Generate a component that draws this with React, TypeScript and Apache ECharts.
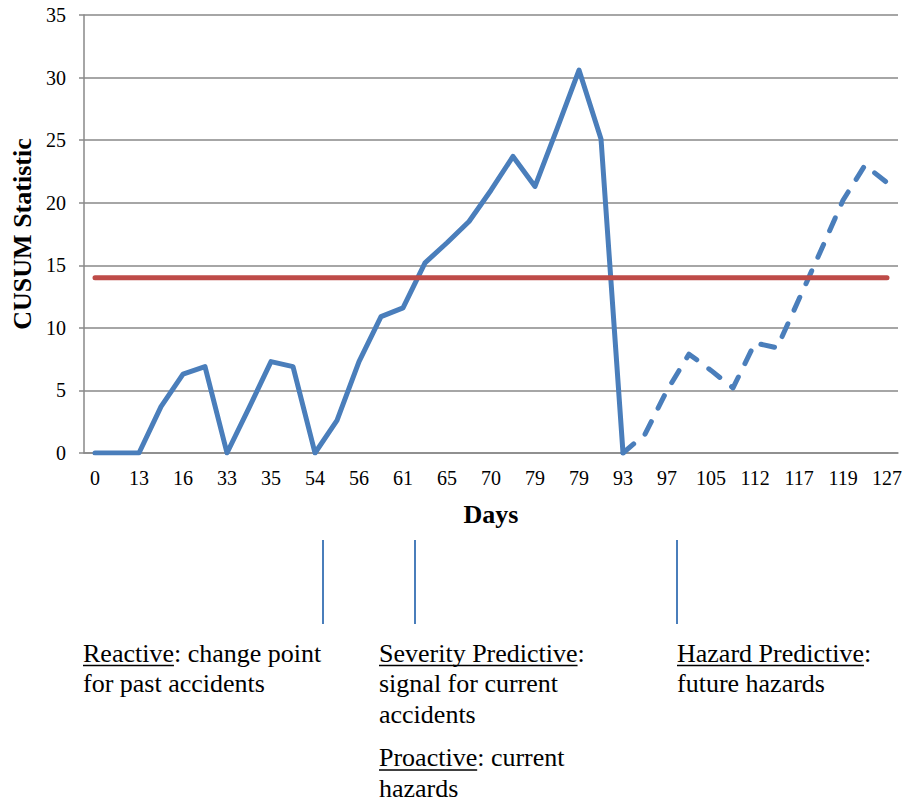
import React, { useEffect, useRef } from "react";
import * as echarts from "echarts";

// ---------- data ----------
// Day labels, shown on every second observation
const dayLabels = ["0", "13", "16", "33", "35", "54", "56", "61", "65", "70", "79", "79", "93", "97", "105", "112", "117", "119", "127"];
// CUSUM statistic for each observation
const cusum = [
  0, 0, 0, 3.7, 6.3, 6.9, 0, 3.6, 7.3, 6.9, 0, 2.6, 7.3, 10.9, 11.6, 15.2, 16.8, 18.5, 21.0,
  23.7, 21.3, 25.9, 30.6, 25.1, 0, 1.5, 5.0, 7.9, 6.6, 5.2, 8.8, 8.4, 12.3, 16.2, 20.2, 23.0, 21.6,
];
const THRESHOLD = 14;
const FORECAST_START = 24; // index where the dashed (future) part begins
const Y_MIN = 0;
const Y_MAX = 35;
const Y_INTERVAL = 5;

// Annotations below the chart: [underlined part, rest]
const noteReactive = [["Reactive", ": change point"], ["", "for past accidents"]];
const noteSeverity = [["Severity Predictive", ":"], ["", "signal for current"], ["", "accidents"]];
const noteProactive = [["Proactive", ": current"], ["", "hazards"]];
const noteHazard = [["Hazard Predictive", ":"], ["", "future hazards"]];

// ---------- styling / layout ----------
const BLUE = "#4A7EBB";
const RED = "#BE4B48";
const GRID = "#898989";
const SERIF = '"Liberation Serif", "Times New Roman", Times, serif';
const NOTE_SIZE = 26;
const LINE_STEP = 30.5;

const noteLayout = [
  { lines: noteReactive, x: 83, baseline: 662 },
  { lines: noteSeverity, x: 379, baseline: 662 },
  { lines: noteProactive, x: 379, baseline: 766.5 },
  { lines: noteHazard, x: 677, baseline: 662 },
];
const markerX = [323, 415, 677];

function measure(text: string, font: string): number {
  const c = document.createElement("canvas").getContext("2d");
  if (!c) return text.length * NOTE_SIZE * 0.45;
  c.font = font;
  return c.measureText(text).width;
}

export default function App() {
  const ref = useRef<HTMLDivElement>(null);

  useEffect(() => {
    if (!ref.current) return;
    const chart = echarts.init(ref.current, null, { renderer: "svg" });

    const categories = cusum.map((_, i) => (i % 2 === 0 ? dayLabels[i / 2] : ""));
    const solid = cusum.map((v, i) => (i <= FORECAST_START ? v : null));
    const dashed = cusum.map((v, i) => (i >= FORECAST_START ? v : null));
    const thresholdLine = cusum.map(() => THRESHOLD);

    const noteFont = `${NOTE_SIZE}px ${SERIF}`;
    const graphics: any[] = [];
    markerX.forEach((x) => {
      graphics.push({
        type: "line",
        shape: { x1: x, y1: 540, x2: x, y2: 624 },
        style: { stroke: BLUE, lineWidth: 2 },
        silent: true,
      });
    });
    noteLayout.forEach((block) => {
      block.lines.forEach(([u, rest], li) => {
        const base = block.baseline + li * LINE_STEP;
        graphics.push({
          type: "text",
          x: block.x,
          y: base - NOTE_SIZE * 0.3375,
          style: {
            text: u + rest,
            font: noteFont,
            fontSize: NOTE_SIZE,
            fontFamily: SERIF,
            fill: "#000",
            align: "left",
            verticalAlign: "middle",
            textAlign: "left",
            textVerticalAlign: "middle",
          },
          silent: true,
        });
        if (u) {
          const w = measure(u, noteFont);
          graphics.push({
            type: "line",
            shape: { x1: block.x, y1: base + 3.5, x2: block.x + w, y2: base + 3.5 },
            style: { stroke: "#000", lineWidth: 1.3 },
            silent: true,
          });
        }
      });
    });

    chart.setOption({
      animation: false,
      backgroundColor: "#fff",
      grid: { left: 84, right: 6, top: 15, bottom: 350, containLabel: false },
      xAxis: {
        type: "category",
        data: categories,
        boundaryGap: true,
        name: "Days",
        nameLocation: "middle",
        nameGap: 48,
        nameTextStyle: { fontFamily: SERIF, fontSize: 26, fontWeight: "bold", color: "#000" },
        axisLine: { show: true, lineStyle: { color: GRID, width: 1.5 } },
        axisTick: { show: false },
        axisLabel: { interval: 0, margin: 15, fontFamily: SERIF, fontSize: 20, color: "#000" },
        splitLine: { show: false },
      },
      yAxis: {
        type: "value",
        min: Y_MIN,
        max: Y_MAX,
        interval: Y_INTERVAL,
        name: "CUSUM Statistic",
        nameLocation: "middle",
        nameGap: 47,
        nameTextStyle: { fontFamily: SERIF, fontSize: 26, fontWeight: "bold", color: "#000" },
        axisLine: { show: true, lineStyle: { color: GRID, width: 1.5 } },
        axisTick: { show: true, length: 5, lineStyle: { color: GRID, width: 1.5 } },
        axisLabel: { margin: 18, fontFamily: SERIF, fontSize: 20, color: "#000" },
        splitLine: { show: true, lineStyle: { color: GRID, width: 1.5 } },
      },
      series: [
        {
          name: "CUSUM",
          type: "line",
          data: solid,
          symbol: "none",
          connectNulls: false,
          lineStyle: { color: BLUE, width: 5, cap: "round", join: "round" },
          z: 2,
        },
        {
          name: "CUSUM forecast",
          type: "line",
          data: dashed,
          symbol: "none",
          connectNulls: false,
          lineStyle: { color: BLUE, width: 5, type: [14, 15], cap: "round", join: "round" },
          z: 2,
        },
        {
          name: "Threshold",
          type: "line",
          data: thresholdLine,
          symbol: "none",
          lineStyle: { color: RED, width: 5, cap: "round" },
          z: 3,
        },
      ],
      graphic: graphics,
    });

    return () => chart.dispose();
  }, []);

  return (
    <div
      ref={ref}
      style={{ position: "fixed", left: 0, top: 0, width: 905, height: 803, background: "#fff" }}
    />
  );
}
